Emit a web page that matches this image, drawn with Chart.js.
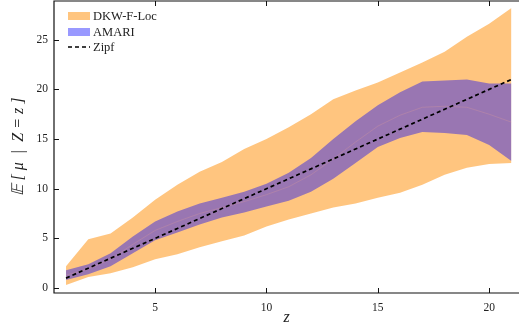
<!DOCTYPE html>
<html>
<head>
<meta charset="utf-8">
<script src="https://cdn.jsdelivr.net/npm/chart.js"></script>
<style>
  html, body { margin: 0; padding: 0; background: #fff; }
</style>
</head>
<body>
<div style="width:519px;height:328px;">
  <canvas id="myChart"></canvas>
</div>

<script>
const zValues = [1, 2, 3, 4, 5, 6, 7, 8, 9, 10, 11, 12, 13, 14, 15, 16, 17, 18, 19, 20, 21];
const dkwLow  = [0.3, 1.1, 1.5, 2.1, 2.9, 3.4, 4.1, 4.7, 5.3, 6.2, 6.9, 7.5, 8.1, 8.5, 9.1, 9.6, 10.4, 11.4, 12.1, 12.5, 12.6];
const dkwHigh = [2.2, 4.9, 5.5, 7.1, 8.9, 10.4, 11.7, 12.7, 14.0, 15.0, 16.2, 17.5, 19.0, 19.9, 20.7, 21.7, 22.7, 23.8, 25.3, 26.6, 28.2];
const amariLow  = [0.8, 1.4, 2.2, 3.5, 4.8, 5.6, 6.4, 7.1, 7.6, 8.2, 8.8, 9.7, 11.0, 12.6, 14.2, 15.1, 15.7, 15.6, 15.4, 14.4, 12.8];
const amariHigh = [1.8, 2.4, 3.5, 5.2, 6.7, 7.7, 8.5, 9.1, 9.7, 10.5, 11.6, 13.1, 15.0, 16.8, 18.4, 19.7, 20.8, 20.9, 21.0, 20.6, 20.6];
const amariMid  = [1.3, 1.9, 2.9, 4.4, 5.8, 6.7, 7.5, 8.1, 8.7, 9.4, 10.2, 11.4, 13.0, 14.7, 16.3, 17.4, 18.2, 18.3, 18.2, 17.5, 16.7];
const zipf = [1, 2, 3, 4, 5, 6, 7, 8, 9, 10, 11, 12, 13, 14, 15, 16, 17, 18, 19, 20, 21];
const xTicks = [5, 10, 15, 20];
const yTicks = [0, 5, 10, 15, 20, 25];

const pts = arr => arr.map((v, i) => ({x: zValues[i], y: v}));

const orange = 'rgba(255, 140, 0, 0.5)';
const blue = 'rgba(0, 0, 255, 0.4)';

// inward ticks, frame and legend
const framePlugin = {
  id: 'frame',
  afterDraw(chart) {
    const ctx = chart.ctx;
    const a = chart.chartArea;
    const xs = chart.scales.x, ys = chart.scales.y;
    ctx.save();
    ctx.strokeStyle = '#111';
    ctx.lineWidth = 1.2;
    ctx.beginPath();
    ctx.moveTo(a.right + 2, a.top); ctx.lineTo(a.left, a.top);
    ctx.lineTo(a.left, a.bottom); ctx.lineTo(a.right + 2, a.bottom);
    ctx.stroke();
    ctx.lineWidth = 1;
    ctx.beginPath();
    xTicks.forEach(t => {
      const px = Math.round(xs.getPixelForValue(t)) + 0.5;
      ctx.moveTo(px, a.bottom); ctx.lineTo(px, a.bottom - 5);
      ctx.moveTo(px, a.top); ctx.lineTo(px, a.top + 5);
    });
    yTicks.forEach(t => {
      const py = Math.round(ys.getPixelForValue(t)) + 0.5;
      ctx.moveTo(a.left, py); ctx.lineTo(a.left + 5, py);
    });
    ctx.stroke();

    // legend
    ctx.font = '12.5px "Liberation Serif"';
    ctx.textBaseline = 'middle';
    ctx.fillStyle = orange;
    ctx.fillRect(68, 12, 22, 8);
    ctx.fillStyle = blue;
    ctx.fillRect(68, 28, 22, 8);
    ctx.strokeStyle = '#000';
    ctx.lineWidth = 1.5;
    ctx.setLineDash([4, 3]);
    ctx.beginPath();
    ctx.moveTo(68, 47); ctx.lineTo(90, 47);
    ctx.stroke();
    ctx.setLineDash([]);
    ctx.fillStyle = '#222';
    ctx.fillText('DKW-F-Loc', 93, 16.5);
    ctx.fillText('AMARI', 93, 32.5);
    ctx.fillText('Zipf', 93, 47.5);
    ctx.restore();
  }
};

const config = {
  type: 'line',
  data: {
    datasets: [
      {label: 'Zipf', data: pts(zipf), borderColor: '#000', borderWidth: 1.7,
       borderDash: [4, 3], pointRadius: 0, fill: false, order: 0},
      {label: 'AMARI mid', data: pts(amariMid), borderColor: 'rgba(255, 175, 140, 0.2)', borderWidth: 1,
       pointRadius: 0, fill: false, order: 1},
      {label: 'AMARI low', data: pts(amariLow), borderWidth: 0, pointRadius: 0, fill: false, order: 2},
      {label: 'AMARI', data: pts(amariHigh), borderWidth: 0, pointRadius: 0,
       backgroundColor: blue, fill: '-1', order: 2},
      {label: 'DKW low', data: pts(dkwLow), borderWidth: 0, pointRadius: 0, fill: false, order: 3},
      {label: 'DKW-F-Loc', data: pts(dkwHigh), borderWidth: 0, pointRadius: 0,
       backgroundColor: orange, fill: '-1', order: 3}
    ]
  },
  options: {
    responsive: true,
    maintainAspectRatio: false,
    animation: false,
    layout: {padding: {left: 0, right: 0, top: 1, bottom: 0}},
    elements: {line: {tension: 0}},
    plugins: {legend: {display: false}, tooltip: {enabled: false}},
    scales: {
      x: {
        type: 'linear', min: 0.46, max: 21.34,
        afterFit(s) { s.height = 35; s.paddingLeft = 0; s.paddingRight = 0; },
        afterBuildTicks(s) { s.ticks = xTicks.map(v => ({value: v})); },
        grid: {display: false, drawTicks: false},
        border: {display: false},
        ticks: {color: '#222', padding: 8, font: {family: 'Liberation Serif', size: 11.5}, maxRotation: 0},
        title: {display: true, text: 'z', color: '#222', padding: {top: 0, bottom: 1},
                font: {family: 'Liberation Serif', size: 16, style: 'italic'}}
      },
      y: {
        type: 'linear', min: -0.5, max: 28.9,
        afterFit(s) { s.width = 54; s.paddingTop = 0; s.paddingBottom = 0; },
        afterBuildTicks(s) { s.ticks = yTicks.map(v => ({value: v})); },
        grid: {display: false, drawTicks: false},
        border: {display: false},
        ticks: {color: '#222', padding: 6, font: {family: 'Liberation Serif', size: 11.5}},
        title: {display: true, text: '𝔼 [ μ  |  Z = z ]', color: '#222', padding: {top: 9, bottom: 0},
                font: {family: 'Liberation Serif', size: 16, style: 'italic'}}
      }
    }
  },
  plugins: [framePlugin]
};

var myChart = new Chart(document.getElementById('myChart'), config);
</script>
</body>
</html>
